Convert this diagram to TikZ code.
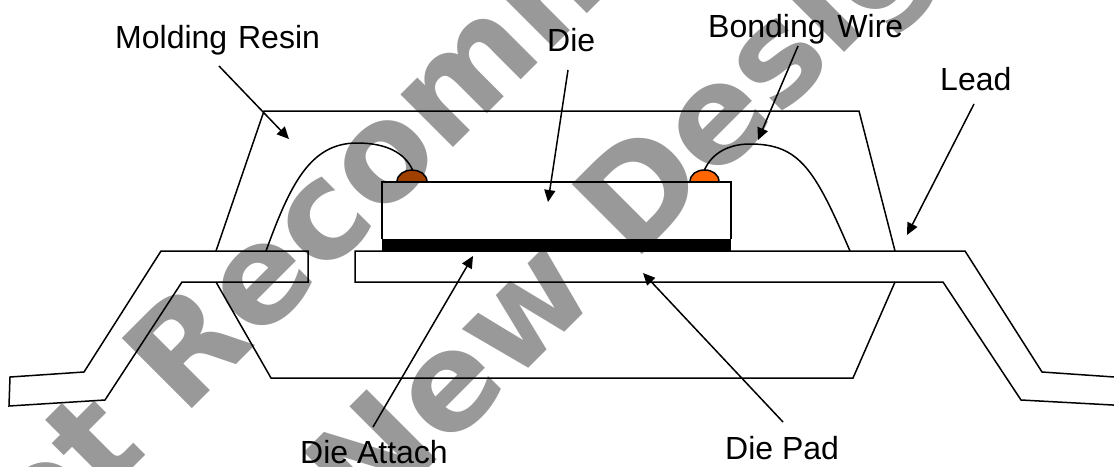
\documentclass[tikz,border=0pt]{standalone}
\usepackage{fontspec}
\setmainfont{Liberation Sans}
\newfontfamily\wmfont{DejaVu Sans}
\usetikzlibrary{arrows.meta}
\definecolor{wmgray}{HTML}{999999}
\tikzset{
  wmark/.style={inner sep=0pt,anchor=base west,rotate=45,text=wmgray,font=\fontsize{136}{136}\wmfont\bfseries},
  lab/.style={inner sep=0pt,anchor=base west,text=black,font=\fontsize{32}{33}\selectfont},
  outline/.style={draw=black,line width=1.5pt,line join=miter},
  pointer/.style={draw=black,line width=1.5pt,-{Triangle[length=12pt,width=11pt]}},
  bump/.style={draw=black,line width=1.5pt}
}
\begin{document}
\begin{tikzpicture}[x=1pt,y=-1pt]
\useasboundingbox (0,0) rectangle (1114,466);
\clip (0,0) rectangle (1114,466);
\fill[white] (0,0) rectangle (1114,466);
% watermark
\node[wmark] (wm1) at (-43,644) {Not Recommended};
\node[wmark] (wm2) at (177,720) {for New Designs};
% resin
\draw[outline] (216,251) -- (264,111) -- (859,111) -- (895,251);
\draw[outline] (216,282) -- (271,378) -- (853,378) -- (895,282);
% wires
\draw[outline] (266,251) .. controls (290,185) and (310,143) .. (357,143) .. controls (385,143) and (405,152) .. (413,171);
\draw[outline] (704,171) .. controls (712,152) and (730,144) .. (750,144) .. controls (800,144) and (815,170) .. (850,251);
% bumps
\draw[bump,fill={rgb,255:red,160;green,64;blue,0}] (397,182) .. controls (397,174) and (405,170) .. (412,170) .. controls (419,170) and (427,174) .. (427,182);
\draw[bump,fill={rgb,255:red,255;green,102;blue,0}] (690,182) .. controls (690,174) and (697,170) .. (704.5,170) .. controls (712,170) and (719,174) .. (719,182);
% die
\draw[outline] (382,239) -- (382,182) -- (731,182) -- (731,239);
\fill[black] (382,239) rectangle (731,251);
% lead
\draw[outline] (308,251) -- (161,251) -- (84,372) -- (10,377) -- (9,406) -- (105,400) -- (182,282) -- (308,282) -- cycle;
\draw[outline] (1120,377.4) -- (1042,372) -- (965,251) -- (355,251) -- (355,282) -- (943,282) -- (1021,400) -- (1120,405.4);
% labels
\node[lab] (mr) at (115,48) {Molding\hspace{2pt} Resin};
\node[lab] (di) at (547,51.5) {Die};
\node[lab] (bw) at (708,37) {Bonding\hspace{3pt} Wire};
\node[lab] (le) at (940,90) {Lead};
\node[lab] (da) at (300,463) {Die Attach};
\node[lab] (dp) at (725,459) {Die Pad};
% pointers
\coordinate (mrs) at (219,66); \coordinate (mre) at (289,139);
\coordinate (dis) at (568,70); \coordinate (die) at (548,202);
\coordinate (bws) at (798,46); \coordinate (bwe) at (758,140);
\coordinate (les) at (974,104); \coordinate (lee) at (907,235);
\coordinate (das) at (373,427); \coordinate (dae) at (473,256);
\coordinate (dps) at (783,422); \coordinate (dpe) at (643,273);
\draw[pointer] (mrs) -- (mre);
\draw[pointer] (dis) -- (die);
\draw[pointer] (bws) -- (bwe);
\draw[pointer] (les) -- (lee);
\draw[pointer] (das) -- (dae);
\draw[pointer] (dps) -- (dpe);
\end{tikzpicture}
\end{document}
